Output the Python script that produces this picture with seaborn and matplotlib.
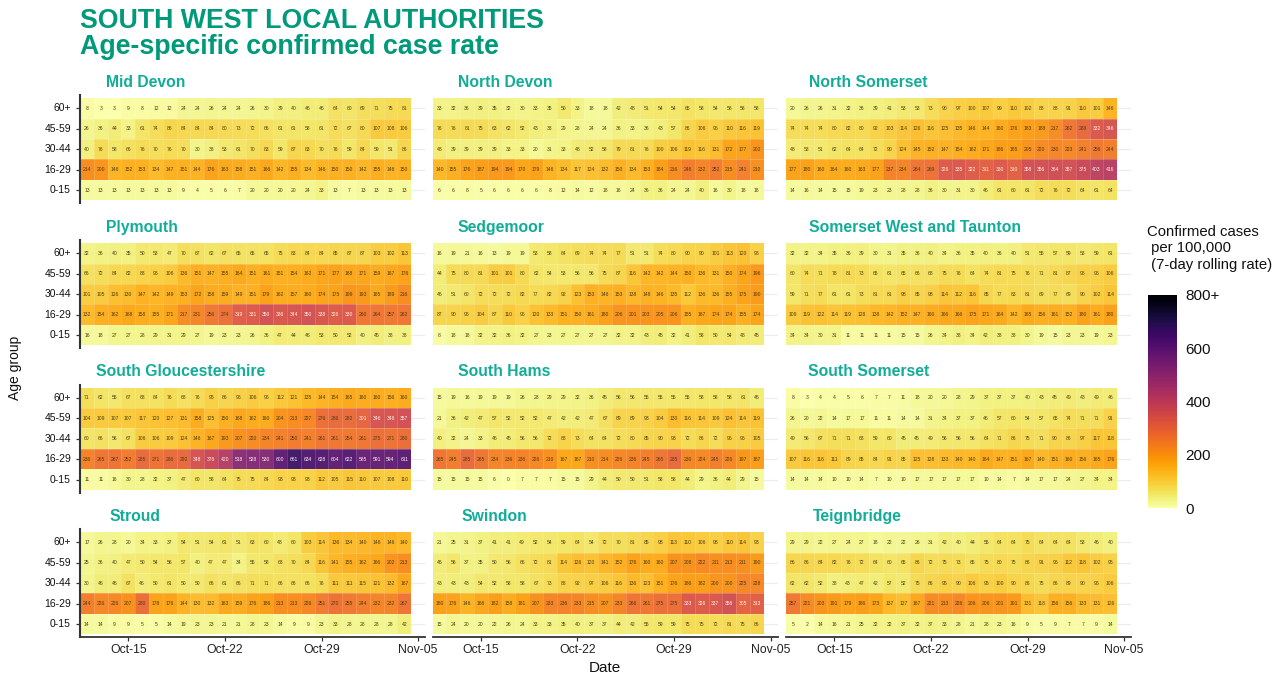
import numpy as np
import pandas as pd
import matplotlib
matplotlib.use('Agg')
import matplotlib.pyplot as plt
import seaborn as sns

ages = ['60+', '45-59', '30-44', '16-29', '0-15']
dates = pd.date_range('2020-10-12', periods=24).strftime('%b-%d').tolist()
tick_labels = ['Oct-15', 'Oct-22', 'Oct-29', 'Nov-05']
tick_days = [3, 10, 17, 24]

mid_devon = [
    [8, 3, 3, 9, 8, 12, 12, 24, 24, 26, 24, 24, 26, 30, 39, 40, 46, 46, 64, 60, 69, 71, 75, 81],
    [26, 36, 44, 33, 61, 74, 86, 84, 84, 84, 80, 73, 72, 66, 61, 61, 58, 61, 72, 67, 80, 107, 108, 106],
    [40, 76, 58, 66, 76, 70, 76, 70, 30, 38, 53, 61, 70, 83, 59, 87, 83, 70, 76, 59, 84, 59, 51, 86],
    [214, 200, 146, 152, 153, 134, 147, 151, 144, 176, 163, 158, 151, 166, 142, 155, 134, 146, 150, 150, 142, 155, 146, 150],
    [13, 13, 13, 13, 13, 13, 13, 9, 4, 5, 6, 7, 20, 20, 20, 20, 24, 33, 13, 7, 13, 13, 13, 13],
]
north_devon = [
    [33, 32, 36, 39, 35, 32, 30, 33, 35, 50, 33, 18, 18, 42, 48, 51, 54, 54, 65, 58, 54, 58, 58, 58],
    [76, 76, 81, 75, 63, 62, 52, 43, 38, 29, 28, 24, 24, 36, 33, 36, 43, 57, 86, 106, 96, 110, 116, 119],
    [48, 39, 39, 39, 39, 33, 33, 20, 31, 33, 48, 52, 58, 79, 81, 76, 100, 106, 119, 116, 131, 172, 177, 202],
    [140, 155, 176, 187, 194, 194, 170, 179, 146, 134, 117, 124, 132, 150, 134, 153, 184, 216, 246, 232, 252, 215, 241, 210],
    [6, 6, 8, 5, 6, 6, 6, 6, 8, 12, 14, 12, 18, 16, 24, 36, 36, 24, 24, 40, 16, 30, 18, 18],
]
north_somerset = [
    [20, 26, 26, 31, 32, 36, 39, 41, 53, 53, 73, 90, 97, 100, 107, 99, 110, 102, 88, 88, 91, 110, 101, 146],
    [74, 74, 74, 80, 82, 80, 92, 103, 114, 126, 116, 125, 135, 146, 144, 160, 176, 183, 188, 217, 262, 288, 332, 346],
    [48, 53, 51, 62, 64, 64, 72, 90, 124, 145, 152, 147, 154, 162, 171, 186, 185, 205, 220, 230, 223, 241, 256, 244],
    [177, 180, 160, 164, 160, 163, 177, 237, 234, 264, 269, 326, 335, 322, 311, 330, 310, 358, 356, 364, 357, 375, 403, 416],
    [14, 16, 14, 15, 15, 19, 23, 23, 28, 28, 36, 30, 31, 30, 46, 61, 60, 61, 72, 76, 72, 64, 61, 64],
]
plymouth = [
    [32, 36, 40, 35, 50, 53, 47, 70, 67, 62, 67, 65, 65, 65, 75, 83, 84, 84, 85, 87, 87, 103, 102, 113],
    [66, 72, 84, 82, 88, 96, 106, 136, 151, 147, 155, 164, 151, 161, 151, 154, 162, 171, 177, 168, 171, 159, 167, 176],
    [101, 105, 126, 130, 147, 142, 149, 153, 172, 158, 159, 149, 151, 179, 162, 157, 160, 174, 175, 199, 193, 165, 189, 216],
    [132, 154, 162, 168, 158, 155, 171, 217, 231, 256, 274, 319, 331, 350, 336, 344, 350, 338, 326, 330, 260, 264, 257, 262],
    [16, 18, 27, 27, 28, 29, 31, 29, 27, 19, 23, 23, 26, 36, 47, 44, 46, 53, 50, 52, 40, 45, 38, 38],
]
sedgemoor = [
    [16, 19, 21, 16, 13, 19, 19, 53, 58, 64, 69, 74, 74, 77, 51, 51, 74, 80, 90, 90, 101, 113, 120, 96],
    [44, 75, 80, 81, 101, 101, 80, 62, 54, 53, 56, 56, 75, 87, 116, 142, 142, 144, 150, 136, 131, 150, 174, 196],
    [46, 51, 60, 72, 72, 72, 82, 77, 82, 92, 123, 153, 146, 153, 138, 148, 146, 135, 112, 136, 136, 155, 175, 190],
    [87, 90, 96, 104, 87, 110, 96, 120, 133, 151, 150, 161, 180, 206, 201, 203, 205, 206, 155, 167, 174, 174, 155, 174],
    [8, 18, 18, 32, 32, 36, 32, 27, 23, 27, 27, 27, 27, 32, 32, 43, 45, 32, 41, 58, 50, 54, 48, 45],
]
somerset_wt = [
    [32, 32, 34, 35, 36, 39, 30, 31, 35, 36, 40, 34, 36, 35, 40, 36, 40, 51, 55, 57, 59, 53, 59, 61],
    [60, 74, 71, 78, 81, 73, 65, 61, 65, 66, 68, 75, 76, 64, 74, 81, 75, 76, 71, 81, 87, 96, 96, 106],
    [59, 71, 77, 61, 61, 73, 81, 81, 98, 85, 98, 114, 112, 116, 85, 77, 83, 81, 69, 77, 69, 90, 102, 114],
    [109, 119, 122, 114, 119, 128, 138, 142, 152, 147, 160, 166, 166, 175, 171, 164, 142, 165, 156, 161, 152, 180, 161, 180],
    [34, 34, 30, 31, 11, 11, 11, 11, 15, 15, 26, 34, 38, 34, 42, 38, 38, 30, 19, 15, 23, 23, 19, 23],
]
south_glos = [
    [71, 62, 55, 67, 68, 64, 76, 68, 76, 95, 86, 96, 106, 96, 112, 121, 135, 144, 154, 165, 160, 160, 156, 160],
    [104, 109, 107, 107, 117, 120, 127, 131, 158, 125, 150, 168, 162, 160, 204, 213, 227, 276, 286, 282, 301, 346, 346, 357],
    [60, 66, 56, 67, 106, 106, 109, 124, 146, 167, 193, 207, 220, 234, 241, 250, 241, 261, 261, 254, 261, 275, 271, 280],
    [236, 265, 267, 252, 285, 271, 286, 292, 348, 376, 420, 518, 528, 530, 600, 661, 634, 628, 604, 622, 585, 591, 594, 611],
    [11, 11, 16, 30, 28, 32, 37, 47, 60, 58, 64, 75, 75, 84, 93, 93, 93, 112, 105, 115, 110, 107, 108, 110],
]
south_hams = [
    [15, 19, 16, 19, 19, 19, 26, 28, 29, 29, 32, 36, 45, 56, 56, 55, 55, 55, 55, 58, 58, 58, 61, 46],
    [21, 36, 42, 47, 57, 52, 52, 52, 47, 42, 42, 47, 67, 89, 89, 93, 104, 130, 116, 114, 109, 124, 114, 119],
    [40, 32, 24, 33, 46, 45, 56, 56, 72, 88, 73, 64, 64, 72, 80, 85, 90, 93, 72, 86, 72, 96, 96, 105],
    [265, 245, 285, 265, 234, 236, 236, 226, 210, 167, 167, 210, 214, 226, 236, 245, 265, 285, 230, 224, 245, 226, 197, 187],
    [15, 15, 15, 15, 6, 0, 7, 7, 7, 15, 15, 29, 44, 50, 50, 51, 58, 58, 44, 29, 36, 44, 29, 15],
]
south_somerset = [
    [8, 3, 4, 4, 5, 6, 7, 7, 11, 18, 20, 20, 28, 29, 37, 37, 37, 40, 43, 45, 49, 43, 49, 46],
    [26, 20, 22, 14, 17, 17, 11, 11, 14, 14, 31, 34, 37, 37, 46, 57, 60, 54, 57, 65, 74, 71, 71, 91],
    [49, 56, 67, 71, 71, 68, 59, 60, 45, 45, 49, 56, 56, 56, 64, 71, 86, 75, 71, 90, 86, 97, 117, 118],
    [107, 116, 116, 111, 89, 85, 84, 91, 85, 125, 128, 133, 140, 140, 164, 147, 151, 167, 140, 151, 160, 156, 165, 176],
    [14, 14, 14, 10, 10, 14, 7, 10, 10, 17, 17, 17, 17, 17, 10, 14, 7, 14, 17, 17, 24, 27, 34, 34],
]
stroud = [
    [17, 26, 28, 20, 34, 33, 37, 54, 51, 54, 61, 51, 63, 60, 48, 60, 103, 114, 136, 134, 140, 146, 146, 140],
    [25, 36, 40, 47, 50, 54, 56, 57, 40, 47, 47, 34, 55, 58, 68, 70, 84, 116, 141, 155, 162, 166, 202, 213],
    [30, 46, 46, 67, 46, 50, 61, 50, 50, 66, 61, 66, 71, 71, 66, 66, 66, 76, 111, 111, 115, 121, 132, 167],
    [244, 226, 226, 207, 280, 178, 176, 144, 130, 132, 163, 159, 176, 186, 213, 213, 226, 251, 270, 255, 244, 232, 232, 267],
    [14, 14, 9, 9, 5, 5, 14, 19, 23, 23, 21, 21, 28, 23, 14, 9, 9, 23, 33, 28, 28, 28, 28, 42],
]
swindon = [
    [21, 25, 31, 37, 41, 41, 49, 52, 54, 59, 64, 54, 72, 70, 81, 85, 98, 113, 110, 106, 98, 110, 114, 93],
    [46, 56, 37, 35, 50, 56, 66, 72, 81, 114, 126, 120, 141, 152, 176, 160, 160, 207, 208, 222, 211, 213, 211, 190],
    [43, 43, 43, 54, 52, 58, 58, 67, 73, 88, 92, 97, 106, 116, 136, 123, 151, 176, 186, 182, 200, 200, 225, 228],
    [180, 176, 146, 166, 182, 158, 181, 207, 233, 236, 233, 215, 207, 233, 266, 261, 275, 275, 333, 326, 337, 356, 305, 313],
    [15, 24, 20, 20, 22, 26, 24, 33, 33, 35, 40, 37, 37, 44, 42, 55, 59, 59, 75, 75, 72, 81, 75, 86],
]
teignbridge = [
    [29, 29, 22, 27, 24, 27, 18, 22, 22, 26, 31, 42, 40, 44, 55, 64, 64, 75, 64, 64, 64, 53, 46, 40],
    [86, 86, 84, 82, 76, 72, 64, 60, 65, 86, 72, 75, 73, 65, 75, 80, 75, 86, 91, 96, 112, 118, 102, 95],
    [62, 62, 52, 38, 43, 47, 42, 57, 52, 75, 86, 95, 90, 106, 95, 100, 90, 86, 75, 86, 89, 90, 96, 106],
    [257, 221, 203, 191, 179, 186, 173, 137, 127, 167, 221, 213, 226, 206, 206, 201, 191, 131, 118, 156, 156, 133, 131, 126],
    [5, 2, 14, 16, 21, 25, 32, 32, 37, 32, 37, 33, 28, 21, 28, 23, 16, 9, 5, 9, 7, 7, 9, 14],
]

panels = [mid_devon, north_devon, north_somerset,
          plymouth, sedgemoor, somerset_wt,
          south_glos, south_hams, south_somerset,
          stroud, swindon, teignbridge]
names = ['Mid Devon', 'North Devon', 'North Somerset',
         'Plymouth', 'Sedgemoor', 'Somerset West and Taunton',
         'South Gloucestershire', 'South Hams', 'South Somerset',
         'Stroud', 'Swindon', 'Teignbridge']
name_x = [106, 458, 809, 106, 458, 809, 96, 458, 808, 109, 461, 813]

W, H = 1285, 678
col_left = [80, 432.5, 786]
row_top = [95, 240, 384.5, 529]
teal = '#00997A'
teal2 = '#12AD98'

sns.set_theme(style='white')
plt.rcParams['font.family'] = ['Liberation Sans', 'DejaVu Sans']

def px_rect(x0, y0, w, h):
    return [x0 / W, 1 - (y0 + h) / H, w / W, h / H]

fig = plt.figure(figsize=(12.85, 6.78), dpi=100)
cax = fig.add_axes(px_rect(1148, 295, 29, 213))

for i, (vals, name) in enumerate(zip(panels, names)):
    r, c = i // 3, i % 3
    ax = fig.add_axes(px_rect(col_left[c], row_top[r], 345, 108))
    df = pd.DataFrame(vals, index=ages, columns=dates)
    sns.heatmap(df, ax=ax, cmap='inferno_r', vmin=0, vmax=800, alpha=0.92,
                annot=True, fmt='d', annot_kws={'size': 3.6},
                linewidths=0, cbar=(i == 0), cbar_ax=cax if i == 0 else None)
    if i == 0:
        ax.collections[0].colorbar.solids.set_alpha(1)
    for t, v in zip(ax.texts, df.values.ravel()):
        t.set_color('#fff2e8' if v >= 300 else '#4d3d14')
    # faint seams between the tiles
    ax.hlines(range(1, 5), 0, 24, color='white', lw=0.5, alpha=0.3)
    ax.vlines(range(1, 24), 0, 5, color='white', lw=0.5, alpha=0.2)
    ax.set_xlim(0, 25)
    ax.set_ylim(5.13, -0.15)
    ax.set_xlabel('')
    ax.set_ylabel('')
    ax.set_axisbelow(True)
    ax.yaxis.grid(True, color='#ececec', lw=0.8)
    ax.xaxis.grid(False)
    for s in ax.spines.values():
        s.set_visible(False)

    ax.set_xticks([d + 0.5 for d in tick_days])
    if r == 3:
        ax.set_xticklabels(tick_labels, rotation=0, fontsize=8.8, color='#222222')
        ax.spines['bottom'].set_visible(True)
        ax.spines['bottom'].set_color('#333333')
        ax.spines['bottom'].set_linewidth(1.3)
        ax.tick_params(axis='x', bottom=True, length=3, width=0.9, color='#333333', pad=2)
    else:
        ax.set_xticklabels([])
        ax.tick_params(axis='x', bottom=False)

    ax.set_yticks(np.arange(5) + 0.5)
    if c == 0:
        ax.set_yticklabels(ages, rotation=0, fontsize=7.5, color='#111111')
        ax.spines['left'].set_visible(True)
        ax.spines['left'].set_color('#333333')
        ax.spines['left'].set_linewidth(1.5)
        ax.tick_params(axis='y', left=True, length=3, width=0.9, color='#333333', pad=3.5)
    else:
        ax.set_yticklabels([])
        ax.tick_params(axis='y', left=False)

    fig.text(name_x[i] / W, 1 - (row_top[r] - 12.5) / H, name, color=teal2,
             fontsize=11.3, fontweight='bold', ha='left', va='center')

cax.set_yticks([0, 200, 400, 600, 800])
cax.set_yticklabels(['0', '200', '400', '600', '800+'], fontsize=11, color='#111111')
cax.tick_params(axis='y', right=True, left=False, length=0, pad=6)
for s in cax.spines.values():
    s.set_visible(False)

fig.text(80 / W, 1 - 21.5 / H, 'SOUTH WEST LOCAL AUTHORITIES', color=teal,
         fontsize=19.3, fontweight='bold', ha='left', va='center')
fig.text(80 / W, 1 - 47.5 / H, 'Age-specific confirmed case rate', color=teal,
         fontsize=19.3, fontweight='bold', ha='left', va='center')
fig.text(1147 / W, 1 - 248.5 / H, 'Confirmed cases\n per 100,000\n (7-day rolling rate)',
         fontsize=10.7, color='#111111', ha='left', va='center', linespacing=1.22)
fig.text(15 / W, 1 - 368 / H, 'Age group', rotation=90, fontsize=10,
         color='#111111', ha='center', va='center')
fig.text(605 / W, 1 - 668 / H, 'Date', fontsize=11, color='#111111',
         ha='center', va='center')

fig.savefig('out.png', dpi=100)
